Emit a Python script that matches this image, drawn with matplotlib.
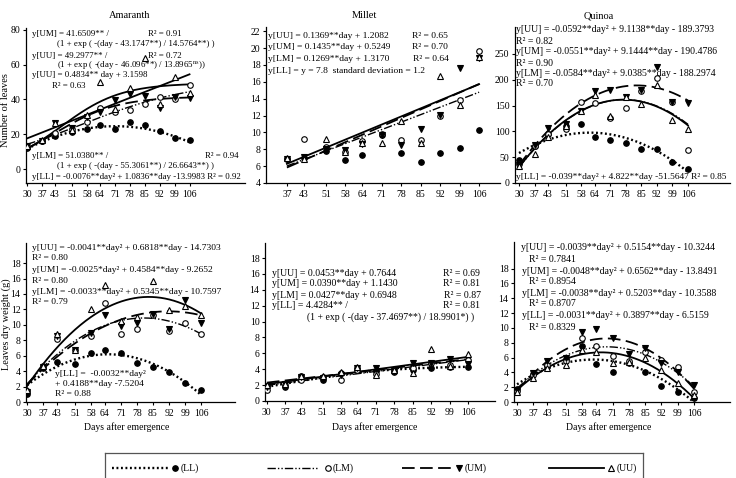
import numpy as np
import matplotlib.pyplot as plt

plt.rcParams['font.family'] = ['Liberation Serif', 'DejaVu Serif']
plt.rcParams['mathtext.fontset'] = 'stix'
plt.rcParams['font.size'] = 7

W, H = 736, 478

days = [30, 37, 43, 51, 58, 64, 71, 78, 85, 92, 99, 106]
days_millet_top = [37, 43, 51, 58, 64, 71, 78, 85, 92, 99, 106]

# number of leaves
amaranth_leaves_ll = [12.3, 16.3, 19.0, 21.5, 22.8, 25.5, 23.2, 26.9, 25.3, 21.9, 17.6, 16.9]
amaranth_leaves_lm = [12.9, 16.3, 20.5, 23.0, 26.9, 34.9, 32.6, 33.9, 37.2, 41.6, 40.1, 48.3]
amaranth_leaves_um = [13.4, 16.3, 26.3, 23.4, 30.1, 33.0, 39.7, 43.0, 42.0, 34.9, 41.2, 40.7]
amaranth_leaves_uu = [13.4, 16.7, 26.7, 22.4, 31.1, 49.9, 34.3, 46.4, 63.7, 37.2, 52.7, 43.9]

millet_leaves_ll = [6.8, 7.0, 7.8, 6.7, 7.3, 9.7, 7.6, 6.5, 7.6, 8.2, 10.3]
millet_leaves_lm = [6.9, 9.2, 8.3, 7.7, 9.0, 9.8, 9.1, 9.1, 11.9, 13.8, 19.7]
millet_leaves_um = [6.8, 7.1, 8.0, 7.9, 8.6, 9.7, 8.5, 10.4, 12.1, 17.6, 18.8]
millet_leaves_uu = [7.0, 6.8, 9.2, 7.7, 8.8, 8.8, 11.4, 8.8, 16.7, 13.3, 19.0]

quinoa_leaves_ll = [45, 72, 95, 110, 114, 89, 83, 78, 66, 66, 41, 27]
quinoa_leaves_lm = [37, 72, 95, 104, 157, 154, 126, 146, 178, 203, 157, 63]
quinoa_leaves_um = [35, 73, 106, 115, 140, 178, 181, 167, 181, 225, 157, 155]
quinoa_leaves_uu = [33, 57, 90, 110, 140, 170, 130, 167, 153, 190, 122, 105]

# leaves dry weight (g)
amaranth_dw_ll = [1.1, 4.4, 5.2, 4.9, 6.3, 6.8, 6.4, 5.1, 4.5, 3.9, 2.5, 1.6]
amaranth_dw_lm = [1.4, 4.6, 8.2, 6.8, 8.6, 12.8, 8.8, 9.4, 11.3, 9.2, 10.3, 8.8]
amaranth_dw_um = [1.3, 4.5, 8.5, 6.8, 9.0, 11.3, 9.9, 10.2, 11.4, 9.4, 13.2, 10.3]
amaranth_dw_uu = [1.6, 4.7, 8.8, 6.8, 12.0, 15.2, 10.5, 11.0, 15.7, 11.9, 12.4, 11.3]

millet_dw_ll = [1.9, 1.8, 3.1, 2.7, 3.5, 4.2, 3.8, 3.7, 3.9, 4.1, 4.3, 4.3]
millet_dw_lm = [1.4, 2.0, 2.6, 3.0, 2.6, 3.9, 3.4, 3.8, 4.1, 4.8, 4.5, 5.2]
millet_dw_um = [1.8, 2.2, 3.0, 2.9, 3.3, 4.1, 4.2, 3.8, 4.8, 4.8, 5.3, 4.6]
millet_dw_uu = [2.0, 2.2, 3.2, 3.1, 3.7, 4.3, 3.3, 3.9, 3.5, 6.6, 4.4, 5.9]

quinoa_dw_ll = [1.8, 3.8, 4.9, 5.8, 7.5, 5.1, 4.1, 5.2, 4.1, 2.1, 1.3, 0.5]
quinoa_dw_lm = [1.5, 3.6, 5.0, 5.6, 8.6, 7.6, 6.2, 5.6, 6.7, 5.7, 4.7, 1.4]
quinoa_dw_um = [1.6, 3.9, 5.6, 6.0, 9.5, 9.9, 8.6, 6.5, 7.3, 5.3, 4.0, 2.3]
quinoa_dw_uu = [1.3, 3.2, 4.6, 5.0, 7.0, 6.7, 5.3, 5.4, 6.0, 4.3, 2.5, 0.9]

# fitted models as printed on the chart: (series, model, coefficients)
amaranth_leaves_fits = [('LL', 'poly', [-0.0076, 1.0836, -13.9983]),
                        ('LM', 'logistic', [51.0380, 55.3061, 26.6643]),
                        ('UM', 'logistic', [41.6509, 43.1747, 14.5764]),
                        ('UU', 'logistic', [49.2977, 46.096, 13.8965]),
                        ('UU', 'poly', [0.4834, 3.1598])]
millet_leaves_fits = [('LM', 'poly', [0.1269, 1.3170]),
                      ('UM', 'poly', [0.1435, 0.5249]),
                      ('UU', 'poly', [0.1369, 1.2082])]
quinoa_leaves_fits = [('LL', 'poly', [-0.039, 4.822, -51.5647]),
                      ('LM', 'poly', [-0.0584, 9.0385, -188.2974]),
                      ('UM', 'poly', [-0.0551, 9.1444, -190.4786]),
                      ('UU', 'poly', [-0.0592, 9.1138, -189.3793])]
amaranth_dw_fits = [('LL', 'poly', [-0.0032, 0.4188, -7.5204]),
                    ('LM', 'poly', [-0.0033, 0.5345, -10.7597]),
                    ('UM', 'poly', [-0.0025, 0.4584, -9.2652]),
                    ('UU', 'poly', [-0.0041, 0.6818, -14.7303])]
millet_dw_fits = [('LL', 'logistic', [4.4284, 37.4697, 18.9901]),
                  ('LM', 'poly', [0.0427, 0.6948]),
                  ('UM', 'poly', [0.0390, 1.1430]),
                  ('UU', 'poly', [0.0453, 0.7644])]
quinoa_dw_fits = [('LL', 'poly', [-0.0031, 0.3897, -6.5159]),
                  ('LM', 'poly', [-0.0038, 0.5203, -10.3588]),
                  ('UM', 'poly', [-0.0048, 0.6562, -13.8491]),
                  ('UU', 'poly', [-0.0039, 0.5154, -10.3244])]

series_order = ['LL', 'LM', 'UM', 'UU']

styles = {
    'LL': dict(ls=(0, (0.8, 1.1)), lw=1.7, marker='o', mfc='black', ms=4.0),
    'LM': dict(ls=(0, (6, 1.5, 1, 1.5, 1, 1.5)), lw=1.0, marker='o', mfc='white', ms=4.0),
    'UM': dict(ls=(0, (7, 3)), lw=1.3, marker='v', mfc='black', ms=4.0),
    'UU': dict(ls='-', lw=1.3, marker='^', mfc='white', ms=3.8),
}


def model(kind, coef, d):
    if kind == 'poly':
        return np.polyval(coef, d)
    a, b, c = coef
    return a / (1 + np.exp(-(d - b) / c))


def rect(l, t, r, b):
    return [l / W, 1 - b / H, (r - l) / W, (b - t) / H]


def ftext(x, y, s, size=7):
    fig.text(x / W, 1 - y / H, s, va='center', ha='left', fontsize=size)


fig = plt.figure(figsize=(W / 100, H / 100), dpi=100)

panels = [
    (rect(26, 28, 245, 183), (29.4, 132), (-8, 81), [0, 20, 40, 60, 80], days, days,
     [amaranth_leaves_ll, amaranth_leaves_lm, amaranth_leaves_um, amaranth_leaves_uu],
     amaranth_leaves_fits),
    (rect(266, 27, 500, 183), (29.5, 113.5), (4, 22.5), list(range(4, 23, 2)), days_millet_top,
     days_millet_top,
     [millet_leaves_ll, millet_leaves_lm, millet_leaves_um, millet_leaves_uu],
     millet_leaves_fits),
    (rect(515, 27, 730, 183), (28.2, 124.9), (0, 302), list(range(0, 251, 50)), days, days,
     [quinoa_leaves_ll, quinoa_leaves_lm, quinoa_leaves_um, quinoa_leaves_uu],
     quinoa_leaves_fits),
    (rect(26, 243, 235, 402), (29.6, 120.8), (0, 20.6), list(range(0, 19, 2)), days, days,
     [amaranth_dw_ll, amaranth_dw_lm, amaranth_dw_um, amaranth_dw_uu],
     amaranth_dw_fits),
    (rect(265, 243, 495, 401), (29.3, 116), (0, 19.9), list(range(0, 19, 2)), days, days,
     [millet_dw_ll, millet_dw_lm, millet_dw_um, millet_dw_uu],
     millet_dw_fits),
    (rect(514, 242, 730, 402), (28.7, 121.4), (0, 21.6), list(range(0, 19, 2)), days, days,
     [quinoa_dw_ll, quinoa_dw_lm, quinoa_dw_um, quinoa_dw_uu],
     quinoa_dw_fits),
]

for pos, xlim, ylim, yticks, xticks, xdays, values, fits in panels:
    ax = fig.add_axes(pos)
    dd = np.linspace(min(xdays), max(xdays), 200)
    for name, kind, coef in fits:
        st = styles[name]
        ax.plot(dd, model(kind, coef, dd), color='black', ls=st['ls'], lw=st['lw'], zorder=2)
    for name, vals in zip(series_order, values):
        st = styles[name]
        ax.plot(xdays, vals, ls='none', marker=st['marker'], mfc=st['mfc'], mec='black',
                mew=0.8, ms=st['ms'], zorder=3)
    ax.set_xlim(*xlim)
    ax.set_ylim(*ylim)
    ax.set_xticks(xticks)
    ax.set_yticks(yticks)
    for s in ['top', 'right']:
        ax.spines[s].set_visible(False)
    for s in ['left', 'bottom']:
        ax.spines[s].set_linewidth(0.9)
    ax.tick_params(axis='both', labelsize=7, length=2.5, width=0.8, direction='out')
    ax.tick_params(axis='x', pad=2.5)
    ax.tick_params(axis='y', pad=1.5)
    ax.patch.set_alpha(0)

# titles and axis labels
fig.text(130 / W, 1 - 16 / H, 'Amaranth', ha='center', va='center', fontsize=7.5)
fig.text(364 / W, 1 - 16 / H, 'Millet', ha='center', va='center', fontsize=7.5)
fig.text(599 / W, 1 - 16 / H, 'Quinoa', ha='center', va='center', fontsize=7.5)
fig.text(6 / W, 1 - 110 / H, 'Number of leaves', rotation=90, ha='center', va='center', fontsize=7.5)
fig.text(6 / W, 1 - 324 / H, 'Leaves dry weight (g)', rotation=90, ha='center', va='center',
         fontsize=7.5)
for xc in [127, 375, 609]:
    fig.text(xc / W, 1 - 427 / H, 'Days after emergence', ha='center', va='center', fontsize=7)

# equations
fa = 6.4
ftext(32, 34, 'y[UM] = 41.6509** /', fa)
ftext(148, 34, 'R² = 0.91', fa)
ftext(57, 44, '(1 + exp ( -(day - 43.1747**) / 14.5764**) )', fa)
ftext(32, 56, 'y[UU] = 49.2977** /', fa)
ftext(148, 56, 'R² = 0.72', fa)
ftext(57, 66, r'(1 + exp ( -(day - 46.096**) / 13.8965$^{\mathrm{ns}}$))', fa)
ftext(32, 75, 'y[UU] = 0.4834** day + 3.1598', fa)
ftext(52, 86, 'R² = 0.63', fa)
ftext(32, 156, 'y[LM] = 51.0380** /', fa)
ftext(205, 156, 'R² = 0.94', fa)
ftext(57, 166, '(1 + exp ( -(day - 55.3061**) / 26.6643**) )', fa)
ftext(32, 177, 'y[LL] = -0.0076**day² + 1.0836**day -13.9983 R² = 0.92', fa)

fm = 6.8
ftext(268, 36, 'y[UU] = 0.1369**day + 1.2082', fm)
ftext(412, 36, 'R² = 0.65', fm)
ftext(268, 47, 'y[UM] = 0.1435**day + 0.5249', fm)
ftext(412, 47, 'R² = 0.70', fm)
ftext(268, 59, 'y[LM] = 0.1269**day + 1.3170', fm)
ftext(413, 59, 'R² = 0.64', fm)
ftext(268, 71, 'y[LL] = y = 7.8  standard deviation = 1.2', fm)

ftext(516, 30, 'y[UU] = -0.0592**day² + 9.1138**day - 189.3793')
ftext(516, 41, 'R² = 0.82')
ftext(516, 52, 'y[UM] = -0.0551**day² + 9.1444**day - 190.4786')
ftext(516, 63, 'R² = 0.90')
ftext(516, 73, 'y[LM] = -0.0584**day² + 9.0385**day - 188.2974')
ftext(516, 84, 'R² = 0.70')
ftext(516, 177, 'y[LL] = -0.039**day² + 4.822**day -51.5647 R² = 0.85', 6.75)

fb = 6.8
ftext(32, 248, 'y[UU] = -0.0041**day² + 0.6818**day - 14.7303', fb)
ftext(32, 258, 'R² = 0.80', fb)
ftext(32, 270, 'y[UM] = -0.0025*day² + 0.4584**day - 9.2652', fb)
ftext(32, 281, 'R² = 0.80', fb)
ftext(32, 292, 'y[LM] = -0.0033**day² + 0.5345**day - 10.7597', fb)
ftext(32, 302, 'R² = 0.79', fb)
ftext(55, 374, 'y[LL] =  -0.0032**day²', fb)
ftext(55, 384, '+ 0.4188**day -7.5204', fb)
ftext(55, 394, 'R² = 0.88', fb)

ftext(272, 273, 'y[UU] = 0.0453**day + 0.7644')
ftext(443, 273, 'R² = 0.69')
ftext(272, 284, 'y[UM] = 0.0390**day + 1.1430')
ftext(443, 284, 'R² = 0.81')
ftext(272, 295, 'y[LM] = 0.0427**day + 0.6948')
ftext(444, 295, 'R² = 0.87')
ftext(272, 306, 'y[LL] = 4.4284** /')
ftext(443, 306, 'R² = 0.81')
ftext(307, 317, '(1 + exp ( -(day - 37.4697**) / 18.9901*) )')

ftext(521, 248, 'y[UU] = -0.0039**day² + 0.5154**day - 10.3244')
ftext(529, 259, 'R² = 0.7841')
ftext(522, 271, 'y[UM] = -0.0048**day² + 0.6562**day - 13.8491')
ftext(529, 281, 'R² = 0.8954')
ftext(522, 293, 'y[LM] = -0.0038**day² + 0.5203**day - 10.3588')
ftext(529, 303, 'R² = 0.8707')
ftext(522, 315, 'y[LL] = -0.0031**day² + 0.3897**day - 6.5159')
ftext(529, 327, 'R² = 0.8329')

# legend box, its lower edge runs off the bottom of the figure
lax = fig.add_axes(rect(105, 453, 643, 490))
lax.set_xlim(105, 643)
lax.set_ylim(0, 1)
lax.set_xticks([])
lax.set_yticks([])
for s in lax.spines.values():
    s.set_linewidth(0.9)
    s.set_edgecolor('#555555')
ly = 0.6
legend_spans = {'LL': (112, 168, 175, 181), 'LM': (267, 318, 328, 333),
                'UM': (402, 455, 459, 465), 'UU': (549, 604, 611, 617)}
for name in series_order:
    st = styles[name]
    x0, x1, xm, xt = legend_spans[name]
    lax.plot([x0, x1], [ly, ly], color='black', ls=st['ls'], lw=st['lw'])
    lax.plot([xm], [ly], ls='none', marker=st['marker'], mfc=st['mfc'], mec='black',
             mew=0.8, ms=st['ms'])
    lax.text(xt, ly, '(%s)' % name, va='center', ha='left', fontsize=7)

fig.savefig('out.png', dpi=100)
